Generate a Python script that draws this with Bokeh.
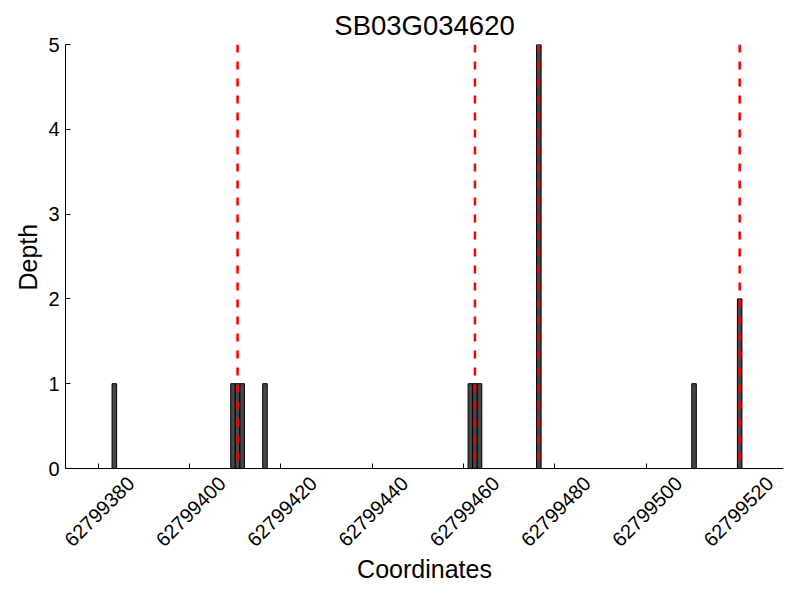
import math
from bokeh.plotting import figure
from bokeh.models import ColumnDataSource, FixedTicker, Label, LabelSet, Title
from bokeh.core.properties import value
from bokeh.embed import file_html
from bokeh.resources import INLINE

# ---- data ----
positions = [62799383, 62799409, 62799410, 62799411, 62799416,
             62799461, 62799462, 62799463, 62799476, 62799510, 62799520]
depths = [1, 1, 1, 1, 1, 1, 1, 1, 5, 1, 2]
marker_positions = [62799410, 62799462, 62799476, 62799520]
x_ticks = [62799380, 62799400, 62799420, 62799440, 62799460, 62799480, 62799500, 62799520]
x_tick_labels = [str(t) for t in x_ticks]
y_ticks = [0, 1, 2, 3, 4, 5]

FONT = "Liberation Sans"

X_START, X_END = 62799372.8, 62799530.1
Y_TOP = 5
# the frame extends below y=0 so the rotated tick labels and the x label fit inside it
FRAME_TOP, AXIS_Y, FRAME_BOTTOM = 44, 468, 580
px_per_unit = (AXIS_Y - FRAME_TOP) / Y_TOP
Y_START = -(FRAME_BOTTOM - AXIS_Y) / px_per_unit

bars = ColumnDataSource(dict(
    left=positions,
    right=[p_ + 1 for p_ in positions],
    top=depths,
    bottom=[0] * len(positions),
))
marks = ColumnDataSource(dict(
    x=[m + 0.5 for m in marker_positions],
    y0=[max(y_ticks)] * len(marker_positions),
    y1=[0] * len(marker_positions),
))
tick_src = ColumnDataSource(dict(
    x=x_ticks,
    y=[0] * len(x_ticks),
    text=x_tick_labels,
))

p = figure(width=800, height=600, output_backend="svg", toolbar_location=None,
           x_range=(X_START, X_END), y_range=(Y_START, Y_TOP),
           title="SB03G034620",
           min_border_left=65, min_border_right=17, min_border_top=FRAME_TOP,
           min_border_bottom=600 - FRAME_BOTTOM)

p.quad(left="left", right="right", top="top", bottom="bottom", source=bars,
       fill_color="#474747", line_color="black", line_width=1)
p.segment(x0="x", x1="x", y0="y0", y1="y1", source=marks,
          line_color="#ff0000", line_width=2.5, line_dash="8 9")

p.title.align = "center"
p.title.text_font = FONT
p.title.text_font_size = "27.5px"
p.title.text_font_style = "normal"
p.title.text_color = "black"
p.title.standoff = 7

p.outline_line_color = None
p.grid.visible = False
p.background_fill_color = "white"
p.border_fill_color = "white"

for ax in (p.xaxis[0], p.yaxis[0]):
    ax.major_tick_in = 5
    ax.major_tick_out = 0
    ax.minor_tick_line_color = None
    ax.axis_line_color = "black"
    ax.major_tick_line_color = "black"
    ax.major_label_text_font = FONT
    ax.major_label_text_font_size = "20px"
    ax.major_label_text_color = "black"

p.xaxis.ticker = FixedTicker(ticks=x_ticks)
p.xaxis.fixed_location = 0
p.xaxis.major_label_overrides = {t: "" for t in x_ticks}
p.xaxis.major_label_standoff = 0

p.yaxis.ticker = FixedTicker(ticks=y_ticks)
p.yaxis.bounds = (0, Y_TOP)
p.yaxis.major_label_standoff = 6

# y axis title, centred on the 0..5 part of the axis
p.add_layout(Title(text="Depth", align="left", offset=290, standoff=8,
                   text_font=FONT, text_font_size="25px", text_font_style="normal",
                   text_color="black"), "left")

# rotated x tick labels, centred under each tick
p.add_layout(LabelSet(x="x", y="y", text="text", source=tick_src,
                      x_offset=1, y_offset=-43, angle=math.pi / 4,
                      text_align="center", text_baseline="middle",
                      text_font=value(FONT), text_font_size=value("20px"),
                      text_color="black"))
# x axis title
p.add_layout(Label(x=(X_START + X_END) / 2, y=0, y_offset=-100, text="Coordinates",
                   text_align="center", text_baseline="alphabetic",
                   text_font=FONT, text_font_size="25px", text_color="black"))

open("out.html", "w").write(file_html(p, INLINE))
